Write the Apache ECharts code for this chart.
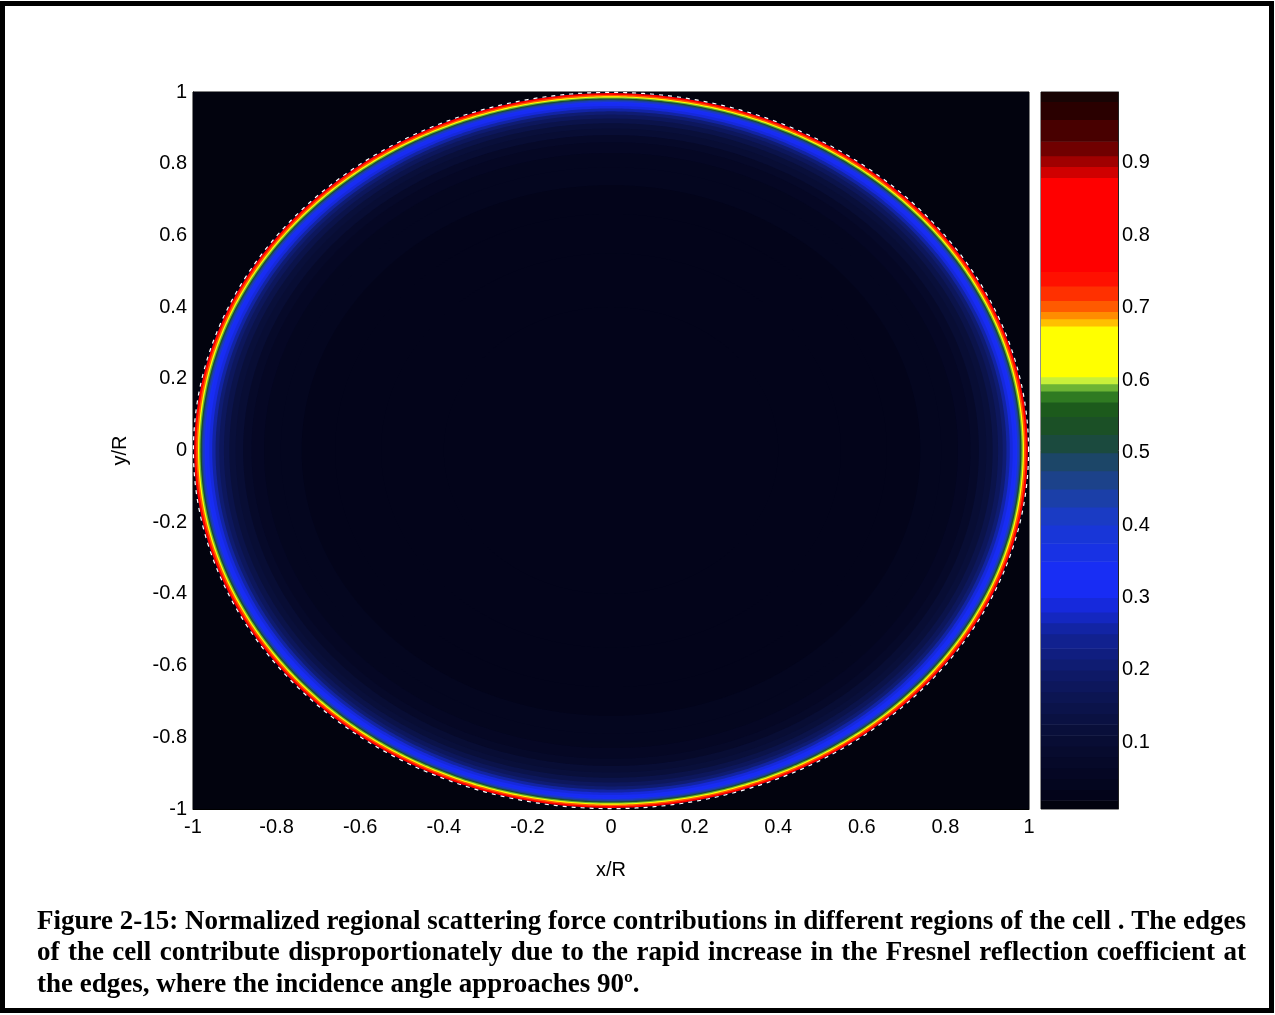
<!DOCTYPE html>
<html>
<head>
<meta charset="utf-8">
<script src="https://cdn.jsdelivr.net/npm/echarts@6/dist/echarts.min.js"></script>
<style>
  html, body { margin: 0; padding: 0; background: #ffffff; }
  #chart { width: 1275px; height: 1015px; }
</style>
</head>
<body>
<div id="chart"></div>
<script>
// Radial profile of the normalized scattering contribution:
// outer radius (r/R) of each ring, listed from the outside in, and its value.
const ringRadius = [1.50, 1.000, 0.997, 0.992, 0.988, 0.985, 0.982, 0.979, 0.976, 0.972, 0.967,
                    0.961, 0.954, 0.946, 0.937, 0.926, 0.913, 0.898, 0.880, 0.860, 0.830,
                    0.790, 0.740, 0.660, 0.550, 0.400];
const ringValue  = [0.000, 0.020, 0.820, 0.700, 0.640, 0.590, 0.530, 0.460, 0.400, 0.340, 0.310,
                    0.280, 0.250, 0.210, 0.170, 0.140, 0.115, 0.095, 0.078, 0.062, 0.048,
                    0.038, 0.031, 0.026, 0.023, 0.021];

// Cell boundary (r/R), drawn as a dashed outline
const outlineRadius = [0.999];

// Colour scale: lower bound of each band and the band's colour
const bandLow = [0.000, 0.020, 0.035, 0.050, 0.065, 0.080, 0.095, 0.110, 0.125, 0.140,
                 0.155, 0.170, 0.185, 0.200, 0.215, 0.230, 0.250, 0.265, 0.280, 0.300,
                 0.325, 0.350, 0.375, 0.400, 0.425, 0.450, 0.475, 0.500, 0.525, 0.550,
                 0.570, 0.585, 0.595, 0.605, 0.675, 0.685, 0.695, 0.710, 0.730, 0.750,
                 0.880, 0.895, 0.910, 0.930, 0.960, 0.985];
const bandColor = ['#02030e', '#03041a', '#04061f', '#050724', '#060929', '#070b2e', '#080d34', '#090f3a', '#0a1142', '#0b134a',
                   '#0c1552', '#0d175c', '#0e1966', '#0f1c72', '#101e80', '#11218f', '#1224a4', '#1427c0', '#1629dc', '#182cf4',
                   '#182ef4', '#1832e4', '#1836d8', '#1a3bc4', '#1b3fa8', '#1c428a', '#1c4668', '#1b4a3e', '#1b5026', '#1c5a1c',
                   '#2f7a22', '#6cb434', '#c8f03a', '#ffff00', '#ffc000', '#ff8c00', '#ff5a00', '#ff3000', '#ff1000', '#ff0000',
                   '#d00000', '#a00000', '#700000', '#480000', '#2a0000', '#180404'];

const colorbarRange = [0.008, 0.998];
const colorbarTicks = [0.1, 0.2, 0.3, 0.4, 0.5, 0.6, 0.7, 0.8, 0.9];
const axisRange = [-1, 1];
const axisStep = 0.2;

const captionLines = [
  'Figure 2-15: Normalized regional scattering force contributions in different regions of the cell .  The edges',
  'of the cell contribute disproportionately due to the rapid increase in the Fresnel reflection coefficient at',
  'the edges, where the incidence angle approaches 90º.'
];

const chart = echarts.init(document.getElementById('chart'), null, { renderer: 'canvas' });

const tickFont = { fontFamily: 'Liberation Sans, Arial, sans-serif', fontSize: 20, color: '#000' };

function ellipsePoints(api, r) {
  const pts = [];
  for (let k = 0; k < 720; k++) {
    const a = k * Math.PI / 360;
    pts.push(api.coord([r * Math.cos(a), r * Math.sin(a)]));
  }
  return pts;
}

// Colour-scale pieces shared by the field and the colour bar
const pieces = bandLow.map((lo, i) => ({
  gte: lo,
  lt: i + 1 < bandLow.length ? bandLow[i + 1] : 1.01,
  color: bandColor[i]
}));

// Bands of the colour bar
const colorbarData = bandLow.map((lo, i) => [lo, i + 1 < bandLow.length ? bandLow[i + 1] : colorbarRange[1]]);

// Caption: justified lines, words placed individually
const captionFont = 'bold 27px "Liberation Serif", "Times New Roman", serif';
const captionLeft = 37, captionRight = 1246, captionTop = 922, captionStep = 31.5;
const measureCtx = document.createElement('canvas').getContext('2d');
measureCtx.font = captionFont;
const spaceW = measureCtx.measureText(' ').width;
const captionGraphics = [];
captionLines.forEach((line, li) => {
  const words = line.split(/\s+/);
  const widths = words.map(w => measureCtx.measureText(w).width);
  const sumW = widths.reduce((a, b) => a + b, 0);
  const target = captionRight - captionLeft;
  const natural = sumW + spaceW * (words.length - 1);
  const justify = li < captionLines.length - 1;
  let scale = 1, gap = spaceW;
  if (natural > target) {
    scale = target / natural;
    gap = spaceW * scale;
  } else if (justify) {
    gap = (target - sumW) / (words.length - 1);
  }
  let x = captionLeft;
  words.forEach((w, wi) => {
    captionGraphics.push({
      type: 'text',
      x: x,
      y: captionTop + li * captionStep,
      scaleX: scale,
      style: { text: w, font: captionFont, fill: '#000', textVerticalAlign: 'middle', textAlign: 'left' },
      silent: true
    });
    x += widths[wi] * scale + gap;
  });
});

const option = {
  backgroundColor: '#ffffff',
  animation: false,
  grid: [
    { left: 193, top: 92, width: 836, height: 717, show: true, borderColor: '#000', borderWidth: 1, backgroundColor: 'transparent' },
    { left: 1041, top: 92, width: 77, height: 717, show: true, borderColor: '#222', borderWidth: 1, backgroundColor: 'transparent' }
  ],
  xAxis: [
    {
      type: 'value', gridIndex: 0, min: axisRange[0], max: axisRange[1], interval: axisStep,
      name: 'x/R', nameLocation: 'middle', nameGap: 51,
      nameTextStyle: tickFont,
      axisLine: { show: true, onZero: false, lineStyle: { color: '#000', width: 1 } },
      axisTick: { show: false },
      splitLine: { show: false },
      axisLabel: Object.assign({ margin: 8, formatter: v => String(Math.round(v * 10) / 10) }, tickFont)
    },
    {
      type: 'value', gridIndex: 1, min: 0, max: 1, show: false
    }
  ],
  yAxis: [
    {
      type: 'value', gridIndex: 0, min: axisRange[0], max: axisRange[1], interval: axisStep,
      name: 'y/R', nameLocation: 'middle', nameGap: 63, nameRotate: 90,
      nameTextStyle: tickFont,
      axisLine: { show: true, onZero: false, lineStyle: { color: '#000', width: 1 } },
      axisTick: { show: false },
      splitLine: { show: false },
      axisLabel: Object.assign({ margin: 6, formatter: v => String(Math.round(v * 10) / 10) }, tickFont)
    },
    {
      type: 'value', gridIndex: 1, position: 'right', min: colorbarRange[0], max: colorbarRange[1],
      axisLine: { show: true, onZero: false, lineStyle: { color: '#222', width: 1 } },
      axisTick: { show: true, inside: true, length: 5, lineStyle: { color: '#000' }, customValues: colorbarTicks },
      splitLine: { show: false },
      axisLabel: Object.assign({ margin: 4, customValues: colorbarTicks, formatter: v => String(v) }, tickFont)
    },
    {
      type: 'value', gridIndex: 1, position: 'left', min: colorbarRange[0], max: colorbarRange[1],
      axisLine: { show: false },
      axisTick: { show: true, inside: true, length: 5, lineStyle: { color: '#000' }, customValues: colorbarTicks },
      splitLine: { show: false },
      axisLabel: { show: false }
    }
  ],
  visualMap: {
    type: 'piecewise',
    show: false,
    dimension: 0,
    seriesIndex: [0, 1],
    pieces: pieces
  },
  series: [
    {
      // concentric rings of the field, outermost first
      type: 'custom',
      xAxisIndex: 0, yAxisIndex: 0,
      coordinateSystem: 'cartesian2d',
      clip: true,
      dimensions: ['value', 'radius'],
      encode: { x: 1, y: 1 },
      data: ringRadius.map((r, i) => [ringValue[i], r]),
      renderItem: (params, api) => ({
        type: 'polygon',
        shape: { points: ellipsePoints(api, api.value(1)) },
        style: { fill: api.visual('color'), stroke: null }
      }),
      silent: true
    },
    {
      // colour bar bands
      type: 'custom',
      xAxisIndex: 1, yAxisIndex: 1,
      coordinateSystem: 'cartesian2d',
      clip: true,
      dimensions: ['low', 'high'],
      encode: { y: [0, 1] },
      data: colorbarData,
      renderItem: (params, api) => {
        const lo = Math.max(api.value(0), colorbarRange[0]);
        const hi = Math.min(api.value(1), colorbarRange[1]);
        const p0 = api.coord([0, hi]);
        const p1 = api.coord([1, lo]);
        return {
          type: 'rect',
          shape: { x: p0[0], y: p0[1], width: p1[0] - p0[0], height: p1[1] - p0[1] + 0.5 },
          style: { fill: api.visual('color') }
        };
      },
      silent: true
    },
    {
      // dashed cell boundary
      type: 'custom',
      xAxisIndex: 0, yAxisIndex: 0,
      coordinateSystem: 'cartesian2d',
      clip: false,
      dimensions: ['radius'],
      encode: { x: 0, y: 0 },
      data: outlineRadius.map(r => [r]),
      renderItem: (params, api) => ({
        type: 'polygon',
        shape: { points: ellipsePoints(api, api.value(0)) },
        style: { fill: 'none', stroke: '#ffffff', lineWidth: 1.2, lineDash: [4, 5] }
      }),
      silent: true
    }
  ],
  graphic: [
    {
      type: 'rect',
      shape: { x: 2.5, y: 3.5, width: 1269, height: 1007 },
      style: { fill: 'none', stroke: '#000', lineWidth: 5 },
      silent: true
    }
  ].concat(captionGraphics)
};

chart.setOption(option);
</script>
</body>
</html>
